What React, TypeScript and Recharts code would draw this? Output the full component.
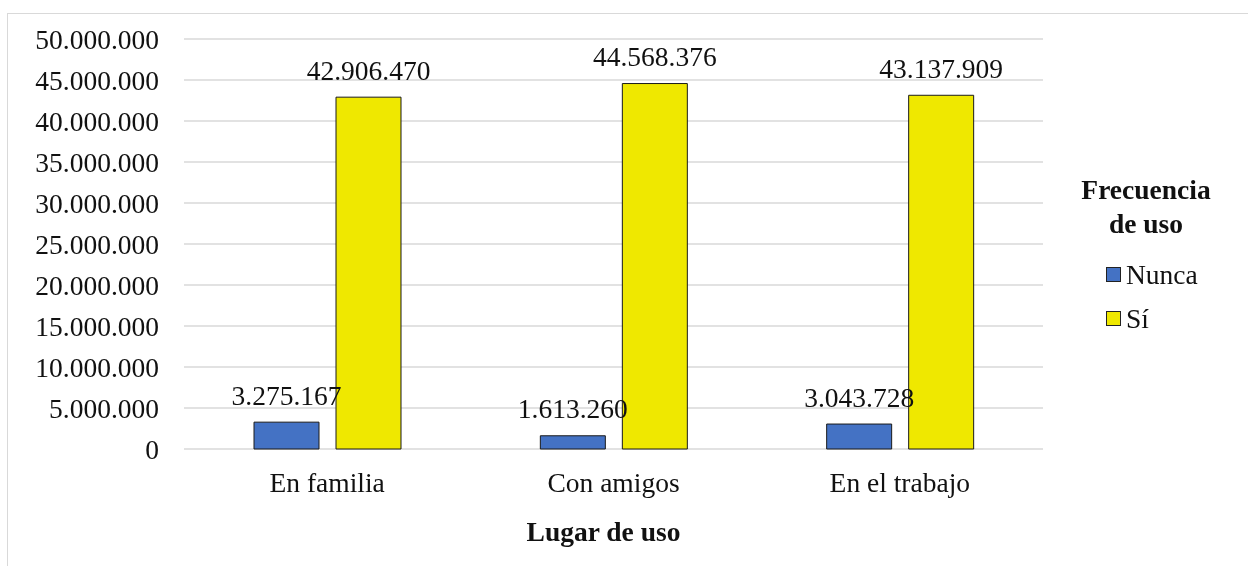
import { BarChart, Bar, XAxis, YAxis, CartesianGrid, Legend, LabelList } from 'recharts'

const lugares = ['En familia', 'Con amigos', 'En el trabajo']
const nunca = [3275167, 1613260, 3043728]
const si = [42906470, 44568376, 43137909]
const yTicks = [0, 5000000, 10000000, 15000000, 20000000, 25000000, 30000000, 35000000, 40000000, 45000000, 50000000]

const data = lugares.map((lugar, i) => ({ lugar, nunca: nunca[i], si: si[i] }))

const FONT = '"Liberation Serif", "Times New Roman", serif'
const TEXT = '#111111'

// miles con punto: 42906470 -> 42.906.470
const fmt = (v: number) => String(Math.round(v)).replace(/\B(?=(\d{3})+(?!\d))/g, '.')

function FrecuenciaLegend({ payload }: { payload?: any[] }) {
  return (
    <div style={{ position: 'relative', width: 160, height: 170, fontFamily: FONT, fontSize: 27.5, color: TEXT }}>
      <div style={{ fontWeight: 'bold', textAlign: 'center', lineHeight: '34px' }}>
        Frecuencia
        <br />
        de uso
      </div>
      {(payload || []).map((entry, i) => (
        <div
          key={entry.value}
          style={{ position: 'absolute', left: 40, top: 80 + i * 44, height: 44, lineHeight: '44px', whiteSpace: 'nowrap' }}
        >
          <span
            style={{
              position: 'absolute',
              left: 0,
              top: 14,
              width: 13,
              height: 13,
              background: entry.color,
              border: '1px solid #222',
            }}
          />
          <span style={{ position: 'absolute', left: 20, top: 0 }}>{entry.value}</span>
        </div>
      ))}
    </div>
  )
}

export default function App() {
  return (
    <>
      <div
        style={{
          position: 'fixed',
          left: 7,
          top: 12.5,
          width: 1300,
          height: 600,
          border: '1.5px solid #d9d9d9',
          boxSizing: 'border-box',
        }}
      />
      <div style={{ position: 'fixed', left: 0, top: 0 }}>
        <BarChart
          width={1248}
          height={566}
          data={data}
          margin={{ top: 39, right: 205, bottom: 57, left: 0 }}
          barSize={65}
          barGap={17}
          style={{ fontFamily: FONT }}
        >
          <CartesianGrid vertical={false} stroke="#d9d9d9" strokeWidth={1.5} />
          <XAxis
            dataKey="lugar"
            height={60}
            axisLine={false}
            tickLine={false}
            tickSize={0}
            tickMargin={23.5}
            tick={{ fill: TEXT, fontSize: 27.5, fontFamily: FONT }}
            label={{
              value: 'Lugar de uso',
              position: 'bottom',
              offset: 12,
              dx: -10,
              fill: TEXT,
              fontSize: 27.5,
              fontWeight: 'bold',
              fontFamily: FONT,
            }}
          />
          <YAxis
            width={184}
            domain={[0, 50000000]}
            ticks={yTicks}
            interval={0}
            axisLine={false}
            tickLine={false}
            tickSize={0}
            tickMargin={25}
            tickFormatter={fmt}
            tick={{ fill: TEXT, fontSize: 27.5, fontFamily: FONT }}
          />
          <Legend
            layout="vertical"
            align="center"
            verticalAlign="middle"
            wrapperStyle={{ left: 1066, top: 173, width: 160 }}
            content={<FrecuenciaLegend />}
          />
          <Bar dataKey="nunca" name="Nunca" fill="#4472C4" stroke="#1a1a1a" strokeWidth={1} isAnimationActive={false}>
            <LabelList dataKey="nunca" position="top" offset={17.5} formatter={fmt} fill={TEXT} fontSize={27.5} fontFamily={FONT} />
          </Bar>
          <Bar dataKey="si" name="Sí" fill="#EFE800" stroke="#1a1a1a" strokeWidth={1} isAnimationActive={false}>
            <LabelList dataKey="si" position="top" offset={17.5} formatter={fmt} fill={TEXT} fontSize={27.5} fontFamily={FONT} />
          </Bar>
        </BarChart>
      </div>
    </>
  )
}
